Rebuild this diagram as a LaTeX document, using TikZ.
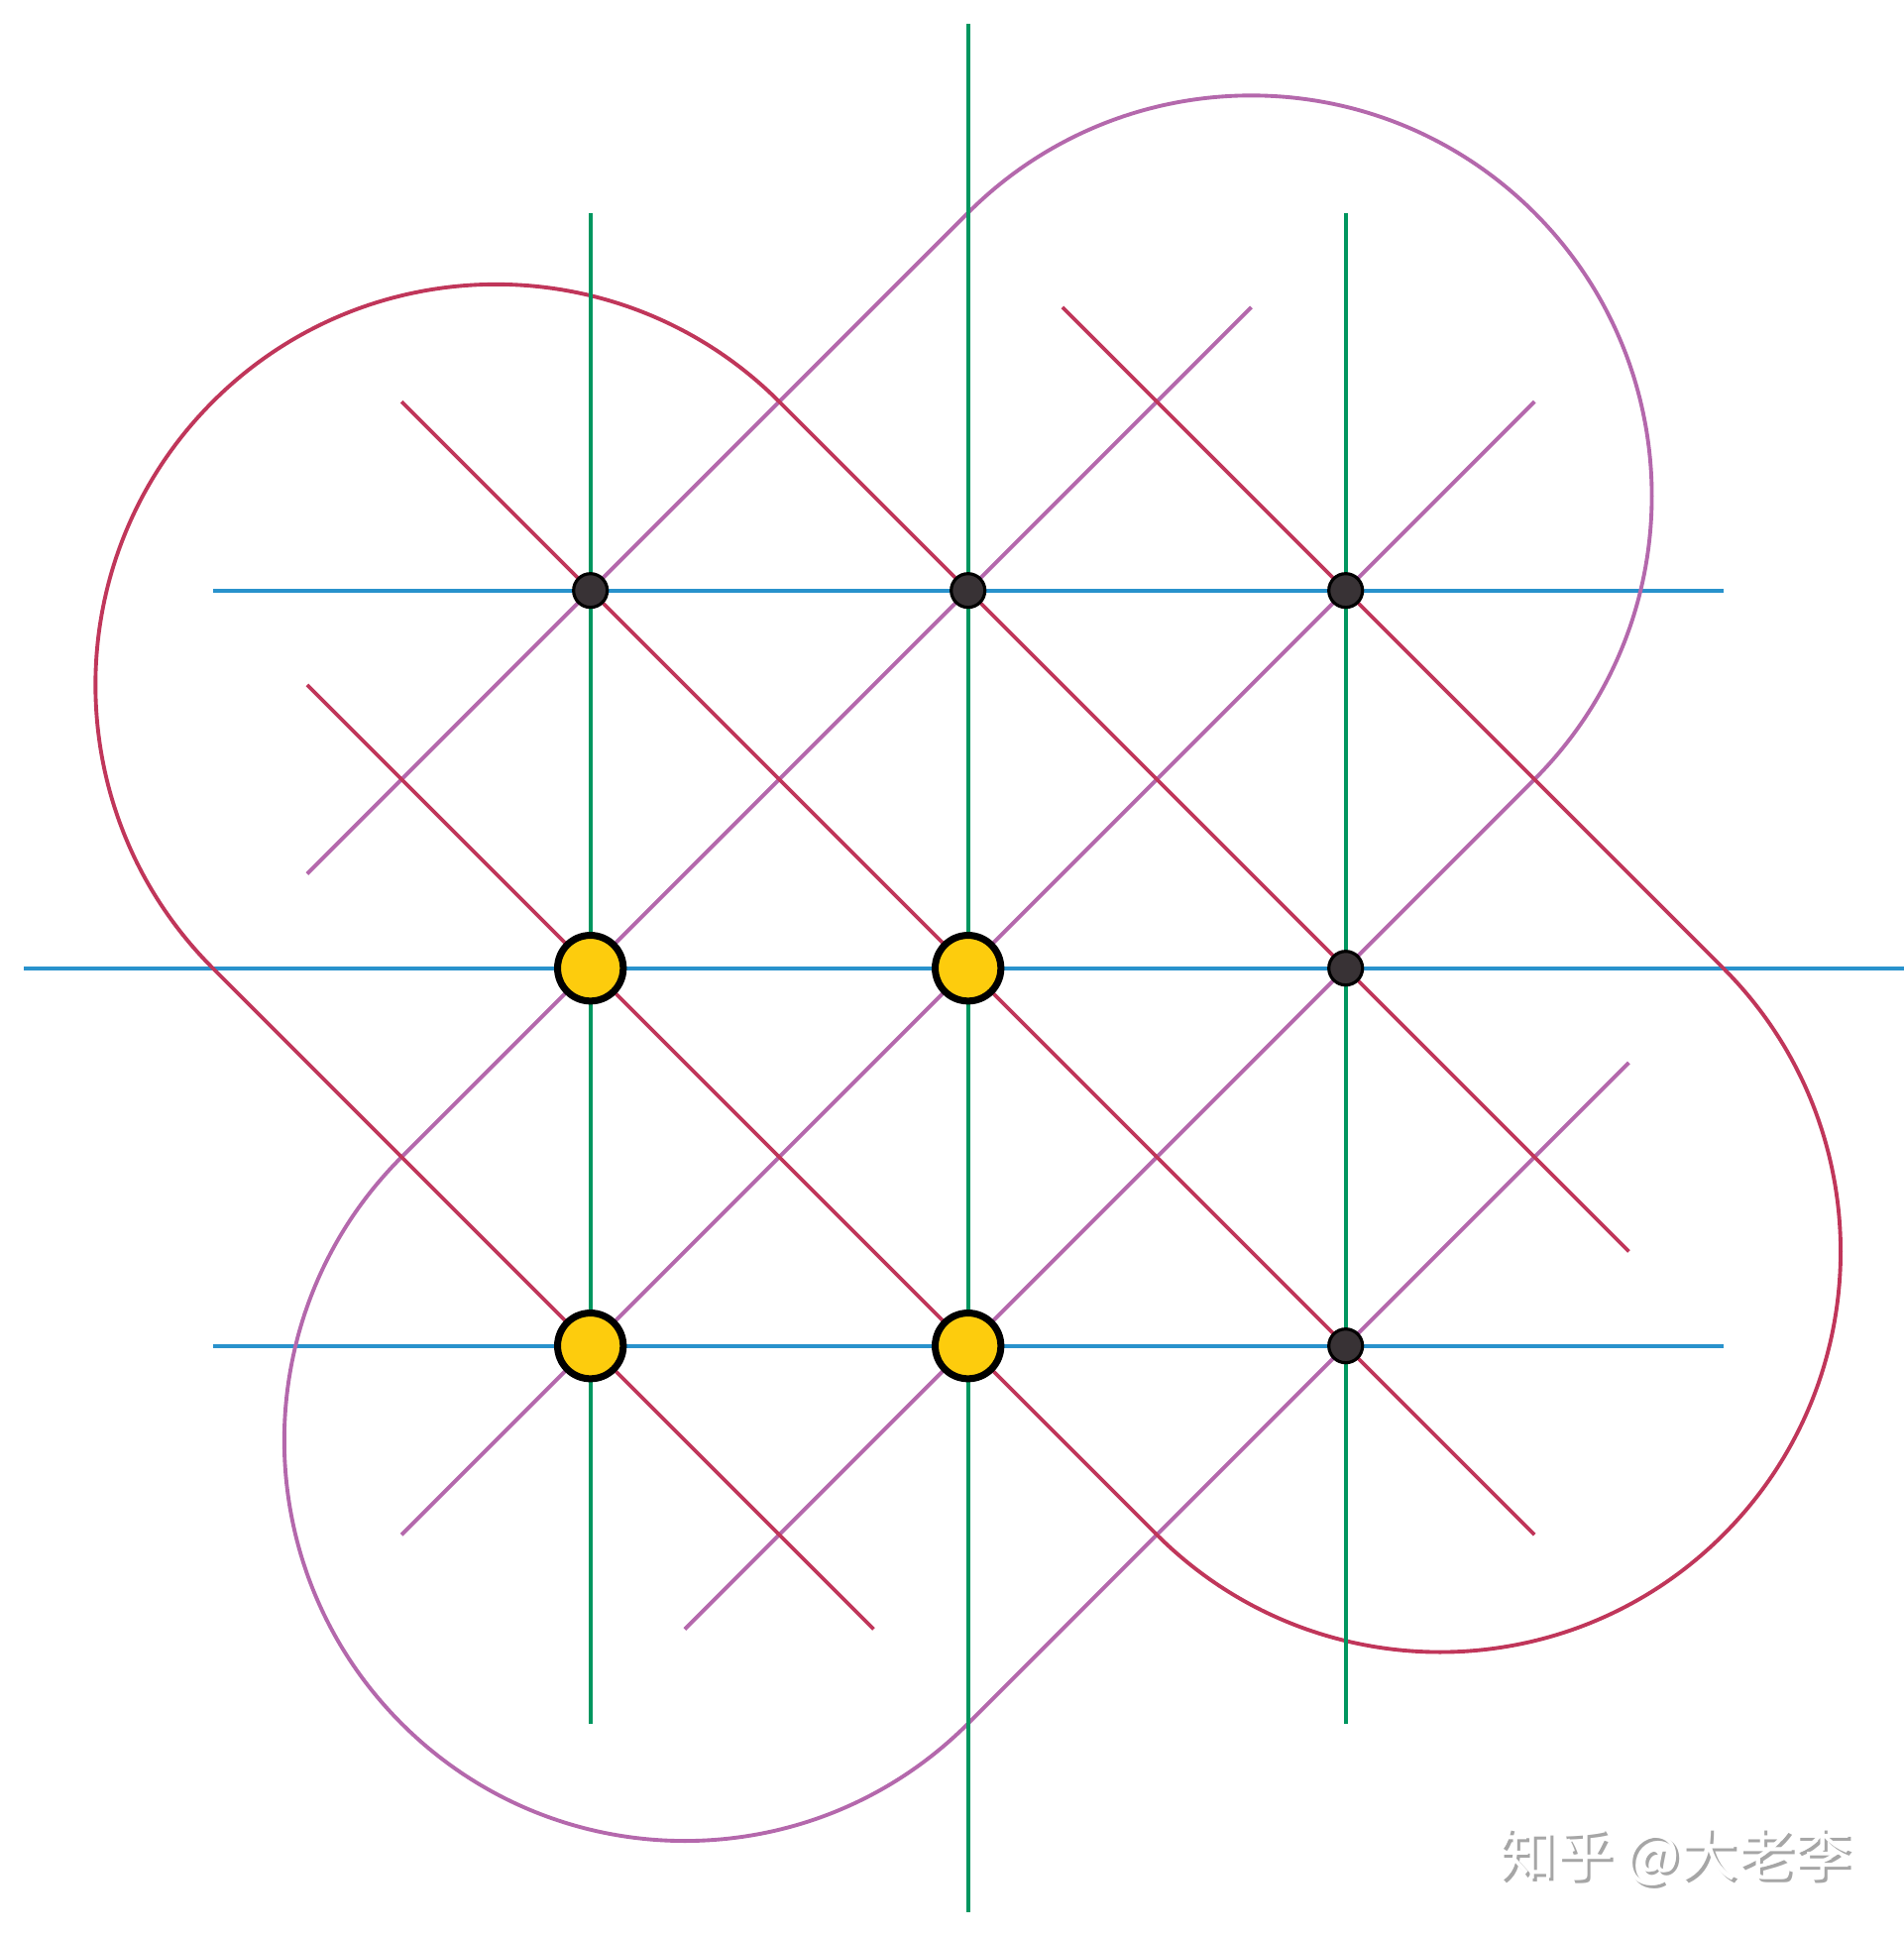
\documentclass[tikz,border=0pt]{standalone}
\usepackage{fontspec}
\newfontfamily\cjk{Noto Sans CJK SC}
\definecolor{hblue}{HTML}{2992CC}
\definecolor{vgreen}{HTML}{00965F}
\definecolor{crim}{HTML}{C0365A}
\definecolor{mauv}{HTML}{B468AC}
\definecolor{dotfill}{HTML}{383235}
\definecolor{yel}{HTML}{FDCC0D}
\definecolor{wmgray}{HTML}{A6A6A6}
\tikzset{
  hline/.style={draw=hblue, line width=1.1pt},
  vline/.style={draw=vgreen, line width=1.1pt},
  crline/.style={draw=crim, line width=1.1pt},
  maline/.style={draw=mauv, line width=1.1pt},
  darkdot/.style={circle, inner sep=0pt, minimum size=3.4mm, fill=dotfill, draw=black, line width=0.9pt},
  yeldot/.style={circle, inner sep=0pt, minimum size=6.63mm, fill=yel, draw=black, line width=2pt},
  wm/.style={inner sep=0pt, anchor=west, font=\cjk\fontsize{16.4pt}{18pt}\selectfont}
}
\begin{document}
\begin{tikzpicture}[x=3.81cm, y=3.81cm]
\useasboundingbox[fill=white] (-2.5635,-2.5651) rectangle (2.4759,2.5635);
% blue horizontals
\draw[hline] (-2,1) -- (2,1);
\draw[hline] (-2.5,0) -- (2.5,0);
\draw[hline] (-2,-1) -- (2,-1);
% mauve "/" lines and arcs
\draw[maline] (-1.75,0.25) -- (0,2) arc[start angle=135, end angle=-45, radius=4.0411cm] -- (-0.75,-1.75);
\draw[maline] (0.75,1.75) -- (-1.5,-0.5) arc[start angle=135, end angle=315, radius=4.0411cm] -- (1.75,-0.25);
\draw[maline] (-1.5,-1.5) -- (1.5,1.5);
% crimson "\" lines and arcs
\draw[crline] (1.75,-0.75) -- (-0.5,1.5) arc[start angle=45, end angle=225, radius=4.0411cm] -- (-0.25,-1.75);
\draw[crline] (0.25,1.75) -- (2,0) arc[start angle=45, end angle=-135, radius=4.0411cm] -- (-1.75,0.75);
\draw[crline] (-1.5,1.5) -- (1.5,-1.5);
% green verticals
\draw[vline] (-1,2) -- (-1,-2);
\draw[vline] (0,2.5) -- (0,-2.5);
\draw[vline] (1,2) -- (1,-2);
% points
\node[darkdot] (p11) at (-1,1) {};
\node[darkdot] (p21) at (0,1) {};
\node[darkdot] (p31) at (1,1) {};
\node[darkdot] (p32) at (1,0) {};
\node[darkdot] (p33) at (1,-1) {};
\node[yeldot] (y12) at (-1,0) {};
\node[yeldot] (y22) at (0,0) {};
\node[yeldot] (y13) at (-1,-1) {};
\node[yeldot] (y23) at (0,-1) {};
% watermark
\node[wm, text=wmgray] (wmshadow) at (5.383cm,-8.998cm) {知乎 @大老李};
\node[wm, text=white] (wmtext) at (5.353cm,-8.968cm) {知乎 @大老李};
\end{tikzpicture}
\end{document}
